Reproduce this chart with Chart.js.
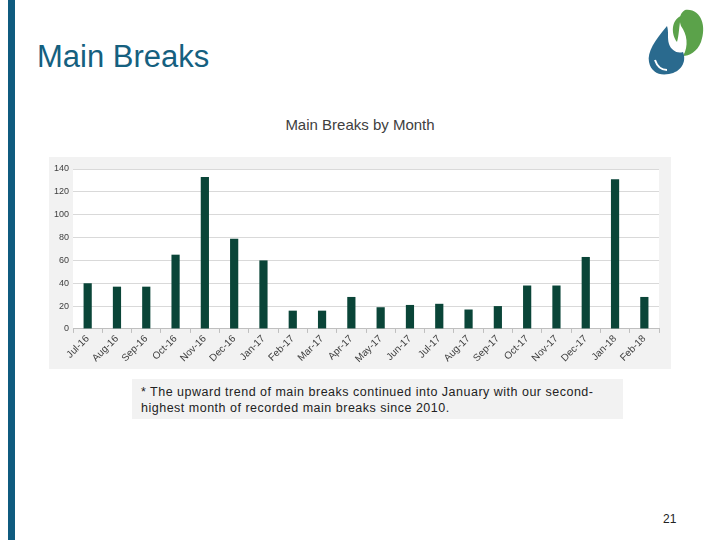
<!DOCTYPE html>
<html>
<head>
<meta charset="utf-8">
<script src="https://cdn.jsdelivr.net/npm/chart.js@4"></script>
<style>
  body { margin: 0; width: 720px; height: 540px; position: relative; background: #fff; font-family: "Liberation Sans", Arial, sans-serif; overflow: hidden; }
  #side-bar { position: absolute; left: 8px; top: 0; width: 7px; height: 540px; background: #0F5B7F; }
  #title { position: absolute; left: 37px; top: 39px; font-size: 31px; color: #15607F; }
  #chart-title { position: absolute; left: 0; width: 720px; top: 116px; text-align: center; font-size: 15px; color: #404040; }
  #chart-box { position: absolute; left: 49px; top: 157px; width: 622px; height: 212px; background: #F2F2F2; }
  #note { position: absolute; left: 132px; top: 379px; width: 491px; height: 40px; background: #F2F2F2; font-size: 12.5px; color: #222; padding: 5px 0 0 9px; box-sizing: border-box; line-height: 16px; letter-spacing: 0.5px; }
  #page-num { position: absolute; left: 663px; top: 512px; font-size: 12px; color: #222; }
  #logo { position: absolute; left: 645px; top: 6px; }
</style>
</head>
<body>
<div id="side-bar"></div>
<div id="title">Main Breaks</div>
<svg id="logo" width="62" height="72" viewBox="0 0 62 72">
  <path d="M40 4 C56 2 62 20 56 36 C52 46 44 50 38 50 C44 40 42 28 36 20 C34 14 34 8 40 4 Z" fill="#5BA24A"/>
  <path d="M36 10 C26 14 26 28 32 36 C34 30 34 20 36 10 Z" fill="#5BA24A"/>
  <path d="M22 20 C10 34 2 46 4 56 C6 66 14 70 24 68 C36 66 42 56 38 46 C32 48 26 44 24 38 C22 32 24 26 22 20 Z" fill="#2A6A8E"/>
  <path d="M10 54 C12 60 16 64 22 64" stroke="#fff" stroke-width="2" fill="none"/>
</svg>
<div id="chart-title">Main Breaks by Month</div>
<div id="chart-box"><canvas id="chart"></canvas></div>
<div id="note">* The upward trend of main breaks continued into January with our second-highest month of recorded main breaks since 2010.</div>
<div id="page-num">21</div>

<script>
// monthly main break counts
const months = ["Jul-16", "Aug-16", "Sep-16", "Oct-16", "Nov-16", "Dec-16", "Jan-17", "Feb-17", "Mar-17", "Apr-17",
                "May-17", "Jun-17", "Jul-17", "Aug-17", "Sep-17", "Oct-17", "Nov-17", "Dec-17", "Jan-18", "Feb-18"];
const breaks = [40, 37, 37, 65, 133, 79, 60, 16, 16, 28, 19, 21, 22, 17, 20, 38, 38, 63, 131, 28];
const y_ticks = [0, 20, 40, 60, 80, 100, 120, 140];

const tick_font = { family: "Liberation Sans", size: 9 };

// white plot area on the grey chart box
const plot_bg = {
    id: 'plot_bg',
    beforeDraw(chart) {
        const a = chart.chartArea;
        chart.ctx.save();
        chart.ctx.fillStyle = '#fff';
        chart.ctx.fillRect(a.left, a.top, a.right - a.left, a.bottom - a.top);
        chart.ctx.restore();
    }
};

new Chart(document.getElementById("chart"), {
    type: 'bar',
    data: {
        labels: months,
        datasets: [{
            data: breaks,
            backgroundColor: '#0A4538',
            barPercentage: 0.56,
            categoryPercentage: 0.5
        }]
    },
    plugins: [plot_bg],
    options: {
        responsive: true,
        maintainAspectRatio: false,
        animation: false,
        layout: { padding: { top: 12, right: 12, left: 1, bottom: 4 } },
        plugins: {
            legend: { display: false },
            tooltip: { enabled: false }
        },
        scales: {
            x: {
                offset: true,
                grid: { display: true, drawOnChartArea: false, offset: true, tickLength: 4, color: '#BFBFBF' },
                border: { color: '#BFBFBF' },
                ticks: { font: { family: "Liberation Sans", size: 10 }, color: '#404040', minRotation: 45, maxRotation: 45, padding: 0 }
            },
            y: {
                min: 0,
                max: 140,
                afterBuildTicks: axis => { axis.ticks = y_ticks.map(v => ({ value: v })); },
                grid: { color: '#D9D9D9', drawTicks: false },
                border: { display: false },
                ticks: { font: tick_font, color: '#404040', padding: 4 }
            }
        }
    }
});
</script>
</body>
</html>
